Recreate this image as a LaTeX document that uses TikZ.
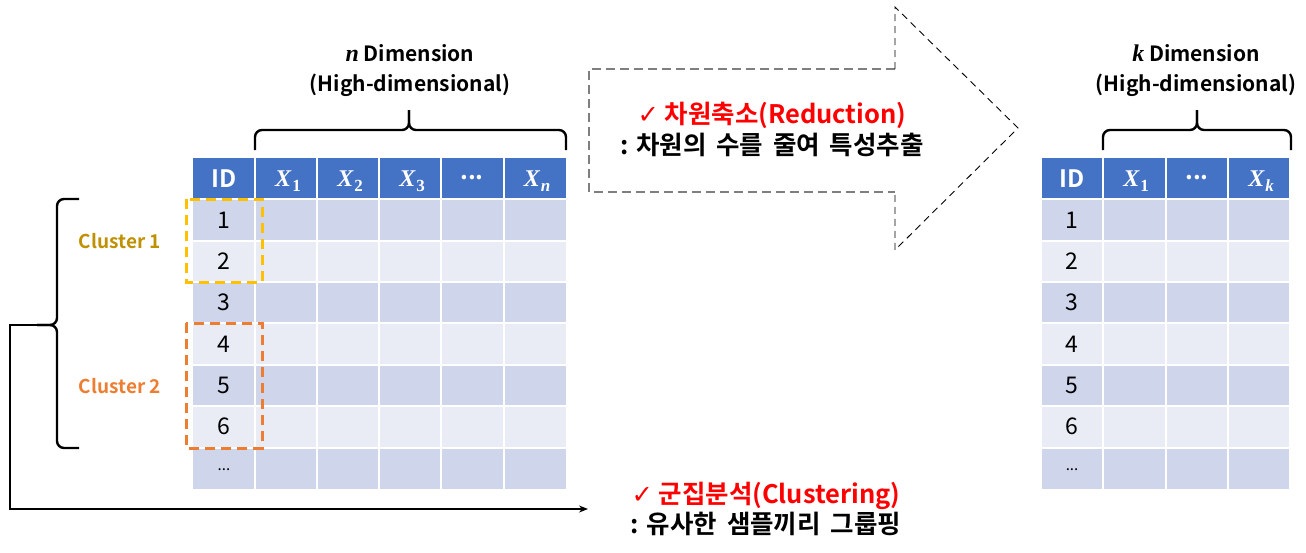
\documentclass[tikz,border=0pt]{standalone}
\usepackage{fontspec}
\setmainfont{Noto Sans CJK KR}[BoldFont={Noto Sans CJK KR Bold}]
\newfontfamily\dejavu{DejaVu Sans}
\newfontfamily\mathserif{Liberation Serif}
\usetikzlibrary{arrows.meta}
\definecolor{hdr}{HTML}{4472C4}
\definecolor{rowA}{HTML}{CFD5EA}
\definecolor{rowB}{HTML}{E9EBF5}
\definecolor{gold}{HTML}{BF9000}
\definecolor{orng}{HTML}{ED7D31}
\definecolor{yel}{HTML}{FFC000}
\definecolor{redtxt}{HTML}{FF0000}
\definecolor{grayline}{HTML}{7F7F7F}
\newcommand{\chk}{{\dejavu\mdseries ✓}}
\newcommand{\varX}[1]{{\mathserif\bfseries\itshape X\kern1pt\raisebox{-5pt}{\fontsize{17}{17}\selectfont #1}}}
\newcommand{\bivar}[1]{{\mathserif\bfseries\itshape #1}}
\tikzset{
  cellnum/.style={font=\fontsize{23}{26}\selectfont, text=black},
  hdrtxt/.style={font=\fontsize{24}{26}\selectfont\bfseries, text=white},
  dimtxt/.style={font=\fontsize{21}{30}\selectfont\bfseries, align=center},
  cluster/.style={font=\fontsize{19}{22}\selectfont\bfseries},
  bracestyle/.style={line width=2.4pt, rounded corners=7pt},
  clbox/.style={line width=3pt, dash pattern=on 10pt off 6pt},
  note/.style={font=\fontsize{25.5}{31}\selectfont\bfseries, align=center},
}
\begin{document}
\begin{tikzpicture}[x=1pt,y=-1pt]
\useasboundingbox (0,0) rectangle (1306,552);
% ---------- left table ----------
\fill[hdr] (193,158) rectangle (566,199);
\foreach \ya/\yb/\c in {199/240.5/rowA,240.5/282/rowB,282/323/rowA,323/364.5/rowB,364.5/406/rowA,406/447.5/rowB,447.5/489/rowA}
  \fill[\c] (193,\ya) rectangle (566,\yb);
\foreach \x in {255,317,379,441,504}
  \draw[white, line width=2pt] (\x,158) -- (\x,489);
\foreach \y in {199,240.5,282,323,364.5,406,447.5}
  \draw[white, line width=2pt] (193,\y) -- (566,\y);
\node[hdrtxt] (LH0) at (224,179) {ID};
\node[hdrtxt] (LH1) at (288,181) {\varX{\upshape 1}};
\node[hdrtxt] (LH2) at (350,181) {\varX{\upshape 2}};
\node[hdrtxt] (LH3) at (412,181) {\varX{\upshape 3}};
\node[hdrtxt] (LH4) at (472,178) {...};
\node[hdrtxt] (LH5) at (537,181) {\varX{n}};
\foreach \n/\y in {1/220,2/261,3/302.5,4/344,5/385,6/426.5}
  \node[cellnum] (L\n) at (224,\y) {\n};
\node[cellnum, font=\fontsize{15}{16}\selectfont] (L7) at (224,470) {...};
% ---------- right table ----------
\fill[hdr] (1042,158) rectangle (1289,199);
\foreach \ya/\yb/\c in {199/240.5/rowA,240.5/282/rowB,282/323/rowA,323/364.5/rowB,364.5/406/rowA,406/447.5/rowB,447.5/489/rowA}
  \fill[\c] (1042,\ya) rectangle (1289,\yb);
\foreach \x in {1103,1166,1228}
  \draw[white, line width=2pt] (\x,158) -- (\x,489);
\foreach \y in {199,240.5,282,323,364.5,406,447.5}
  \draw[white, line width=2pt] (1042,\y) -- (1289,\y);
\node[hdrtxt] (RH0) at (1072,179) {ID};
\node[hdrtxt] (RH1) at (1136,181) {\varX{\upshape 1}};
\node[hdrtxt] (RH2) at (1197,178) {...};
\node[hdrtxt] (RH3) at (1261,181) {\varX{k}};
\foreach \n/\y in {1/220,2/261,3/302.5,4/344,5/385,6/426.5}
  \node[cellnum] (R\n) at (1072,\y) {\n};
\node[cellnum, font=\fontsize{15}{16}\selectfont] (R7) at (1072,470) {...};
% ---------- braces and dimension labels ----------
\draw[bracestyle] (255,150) -- (255,130) -- (409,130) -- (409,110);
\draw[bracestyle] (566,150) -- (566,130) -- (409,130) -- (409,110);
\draw[bracestyle] (1103,150) -- (1103,130) -- (1197,130) -- (1197,110);
\draw[bracestyle] (1291,150) -- (1291,130) -- (1197,130) -- (1197,110);
\node[dimtxt] (ndim) at (410,71) {{\fontsize{24}{30}\selectfont\bivar{n}} Dimension\\(High-dimensional)};
\node[dimtxt] (kdim) at (1196,71) {{\fontsize{24}{30}\selectfont\bivar{k}} Dimension\\(High-dimensional)};
% ---------- clusters ----------
\draw[yel, clbox] (186,199) rectangle (262,282);
\draw[orng, clbox] (186,323) rectangle (262,448);
\node[cluster, text=gold] (c1) at (120,241) {Cluster 1};
\node[cluster, text=orng] (c2) at (120,386) {Cluster 2};
\draw[bracestyle] (79,199) -- (57,199) -- (57,325) -- (37,325);
\draw[bracestyle] (79,448) -- (57,448) -- (57,325) -- (37,325);
\coordinate (btip) at (37,325);
% ---------- big dashed arrow ----------
\draw[grayline, line width=1.6pt, dash pattern=on 9pt off 5pt] (895,69) -- (589,69) -- (589,192) -- (895,192);
\draw[black, line width=0.9pt, dash pattern=on 7pt off 5pt] (895,69) -- (895,7) -- (1018,128) -- (895,250) -- (895,192);
\node[note] (red) at (772,129) {\textcolor{redtxt}{\chk{} 차원축소(Reduction)}\\: 차원의\hspace{4pt} 수를\hspace{4pt} 줄여\hspace{4pt} 특성추출};
% ---------- clustering connector ----------
\node[note, font=\fontsize{25.5}{30}\selectfont\bfseries] (clu) at (766,509) {\textcolor{redtxt}{\chk{} 군집분석(Clustering)}\\: 유사한\hspace{4pt} 샘플끼리\hspace{4pt} 그룹핑};
\coordinate (aend) at (588,509);
\draw[line width=1.2pt, -{Stealth[length=9pt,width=7pt]}] (btip) -- (10,325) -- (10,509) -- (aend);
\end{tikzpicture}
\end{document}
